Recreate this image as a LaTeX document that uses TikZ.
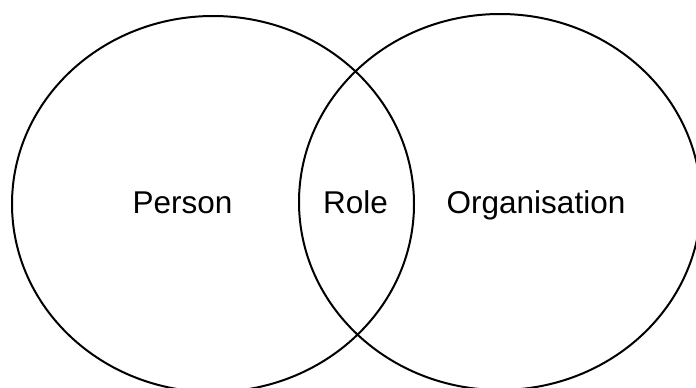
\documentclass[tikz,border=0pt]{standalone}
\usepackage{fontspec}
\setmainfont{Liberation Sans}
\begin{document}
\begin{tikzpicture}[x=1pt,y=-1pt,
  setring/.style={draw=black,line width=2pt},
  setlabel/.style={anchor=base,inner sep=0pt,font=\fontsize{31.5}{37}\selectfont}]
\useasboundingbox (0,0) rectangle (696,388);
\clip (0,0) rectangle (696,388);
% the two overlapping sets
\draw[setring] (213,204) ellipse [x radius=201, y radius=188];
\draw[setring] (500,202) ellipse [x radius=201, y radius=188];
% labels
\node[setlabel] (person) at (182.5,213) {Person};
\node[setlabel] (role) at (355.5,213) {Role};
\node[setlabel] (org) at (536,213) {Organisation};
\end{tikzpicture}
\end{document}
